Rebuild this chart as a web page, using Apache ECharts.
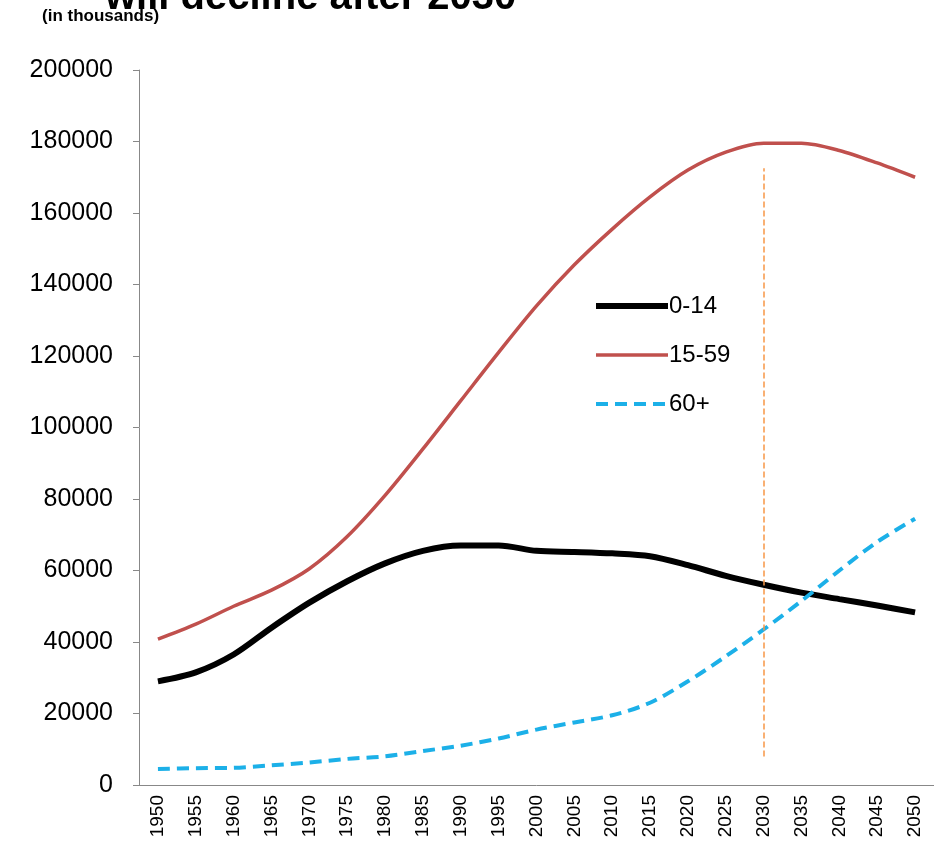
<!DOCTYPE html>
<html><head><meta charset="utf-8">
<script src="https://cdn.jsdelivr.net/npm/echarts@6/dist/echarts.min.js"></script>
<style>html,body{margin:0;padding:0;background:#fff}#c{width:934px;height:857px}</style>
</head><body><div id="c"></div>
<script>
const years = ['1950','1955','1960','1965','1970','1975','1980','1985','1990','1995','2000','2005','2010','2015','2020','2025','2030','2035','2040','2045','2050'];
const age0to14 = [29000,31500,36500,44000,51000,57000,62000,65500,67000,67000,65500,65200,64800,64000,61500,58500,56000,53800,52000,50200,48300];
const age15to59 = [40800,45000,50000,54500,60500,69500,81000,94000,107500,121000,134000,145500,155500,164500,172000,177000,179500,179500,177500,174000,170000];
const age60plus = [4500,4700,4800,5500,6300,7300,8000,9500,11000,13000,15500,17500,19500,23000,29000,36000,43500,51500,60000,68000,74500];

const chart = echarts.init(document.getElementById('c'));
const font = 'Liberation Sans, Arial, sans-serif';
chart.setOption({
  animation: false,
  textStyle: { fontFamily: font },
  graphic: [
    { type: 'text', left: 105, top: -22, style: { text: 'will decline after 2030', font: 'bold 40px ' + font, fill: '#000' } },
    { type: 'text', left: 42, top: 8, style: { text: '(in thousands)', font: 'bold 17px ' + font, fill: '#000' } }
  ],
  grid: { left: 139, right: 0, top: 70, bottom: 72 },
  legend: {
    orient: 'vertical', left: 588, top: 289, itemWidth: 72, itemHeight: 14, itemGap: 25,
    itemStyle: { opacity: 0 },
    textStyle: { fontSize: 24, color: '#000', padding: [0, 0, 0, -4] },
    data: [
      { name: '0-14', lineStyle: { width: 6 } },
      { name: '15-59', lineStyle: { width: 3.5 } },
      { name: '60+', lineStyle: { width: 4 } }
    ]
  },
  xAxis: {
    type: 'category', data: years, boundaryGap: true,
    axisLine: { lineStyle: { color: '#888' } },
    axisTick: { interval: 0, length: 8, lineStyle: { color: '#888' } },
    axisLabel: { interval: 0, rotate: 90, fontSize: 19, color: '#000', margin: 10 }
  },
  yAxis: {
    type: 'value', min: 0, max: 200000, interval: 20000,
    axisLine: { show: true, lineStyle: { color: '#888' } },
    axisTick: { show: true, length: 6, lineStyle: { color: '#888' } },
    splitLine: { show: false },
    axisLabel: { fontSize: 25, color: '#000', margin: 26, formatter: v => String(v) }
  },
  series: [
    { name: '0-14', type: 'line', data: age0to14, smooth: 0.3, symbol: 'none',
      lineStyle: { color: '#000', width: 6 }, itemStyle: { color: '#000' } },
    { name: '15-59', type: 'line', data: age15to59, smooth: 0.3, symbol: 'none',
      lineStyle: { color: '#c0504d', width: 3.5 }, itemStyle: { color: '#c0504d' },
      markLine: {
        silent: true, symbol: 'none', label: { show: false },
        lineStyle: { color: '#f79646', type: 'dashed', width: 1.5 },
        data: [[{ xAxis: '2030', yAxis: 8000 }, { xAxis: '2030', yAxis: 172500 }]]
      } },
    { name: '60+', type: 'line', data: age60plus, smooth: 0.3, symbol: 'none',
      lineStyle: { color: '#1cb0e8', width: 4, type: [12, 7] }, itemStyle: { color: '#1cb0e8' } }
  ]
});
</script></body></html>
